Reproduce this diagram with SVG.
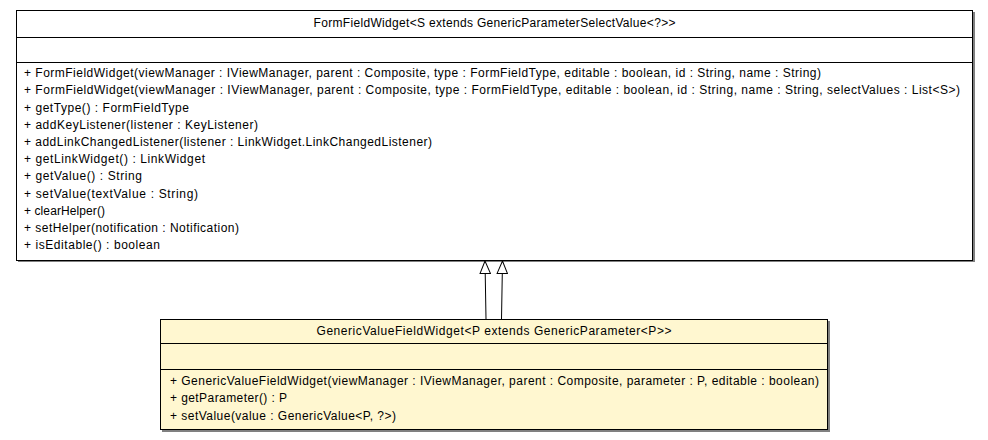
<svg xmlns="http://www.w3.org/2000/svg" width="988" height="440" viewBox="0 0 988 440">
<style>
text{font-family:"Liberation Sans",Arial,sans-serif;font-size:12px;fill:#000}
.t{text-anchor:middle}
.box{stroke:#000;stroke-width:1}
.sh{fill:#808080}
.sep{stroke:#000;stroke-width:1}
.edge{stroke:#000;stroke-width:1;fill:none}
</style>
<defs>
<marker id="tri" markerWidth="14" markerHeight="12" refX="13" refY="6" orient="auto" markerUnits="userSpaceOnUse" viewBox="0 0 14 12">
<path d="M13,6 L0.5,0.8 L0.5,11.2 Z" fill="#fff" stroke="#000" stroke-width="1"/>
</marker>
</defs>
<rect width="988" height="440" fill="#fff"/>
<g id="FormFieldWidget">
<rect class="sh" x="18" y="12" width="957" height="250"/>
<rect class="box" x="16.5" y="10.5" width="956" height="250" fill="#fff"/>
<line class="sep" x1="16.5" y1="37.5" x2="972.5" y2="37.5"/>
<line class="sep" x1="16.5" y1="62.5" x2="972.5" y2="62.5"/>
<text class="t" x="494.5" y="27" textLength="362">FormFieldWidget&lt;S extends GenericParameterSelectValue&lt;?&gt;&gt;</text>
<text x="24" y="77" textLength="797">+ FormFieldWidget(viewManager : IViewManager, parent : Composite, type : FormFieldType, editable : boolean, id : String, name : String)</text>
<text x="24" y="94" textLength="936">+ FormFieldWidget(viewManager : IViewManager, parent : Composite, type : FormFieldType, editable : boolean, id : String, name : String, selectValues : List&lt;S&gt;)</text>
<text x="24" y="111.5" textLength="165">+ getType() : FormFieldType</text>
<text x="24" y="128.5" textLength="234">+ addKeyListener(listener : KeyListener)</text>
<text x="24" y="146" textLength="408">+ addLinkChangedListener(listener : LinkWidget.LinkChangedListener)</text>
<text x="24" y="163" textLength="181">+ getLinkWidget() : LinkWidget</text>
<text x="24" y="180" textLength="118">+ getValue() : String</text>
<text x="24" y="197.5" textLength="174">+ setValue(textValue : String)</text>
<text x="24" y="214.5" textLength="81">+ clearHelper()</text>
<text x="24" y="232" textLength="215">+ setHelper(notification : Notification)</text>
<text x="24" y="249" textLength="136">+ isEditable() : boolean</text>
</g>
<g id="GenericValueFieldWidget">
<rect class="sh" x="162" y="321" width="668" height="111"/>
<rect class="box" x="160.5" y="319.5" width="667" height="110" fill="#fff7d0"/>
<line class="sep" x1="160.5" y1="343.5" x2="827.5" y2="343.5"/>
<line class="sep" x1="160.5" y1="369.5" x2="827.5" y2="369.5"/>
<text class="t" x="494" y="335" textLength="355">GenericValueFieldWidget&lt;P extends GenericParameter&lt;P&gt;&gt;</text>
<text x="170" y="385" textLength="649">+ GenericValueFieldWidget(viewManager : IViewManager, parent : Composite, parameter : P, editable : boolean)</text>
<text x="170" y="402" textLength="117">+ getParameter() : P</text>
<text x="170" y="419.5" textLength="226">+ setValue(value : GenericValue&lt;P, ?&gt;)</text>
</g>
<g id="connectors">
<line class="edge" x1="486" y1="319" x2="485" y2="261" marker-end="url(#tri)"/>
<line class="edge" x1="501.5" y1="319" x2="502.5" y2="261" marker-end="url(#tri)"/>
</g>
</svg>
